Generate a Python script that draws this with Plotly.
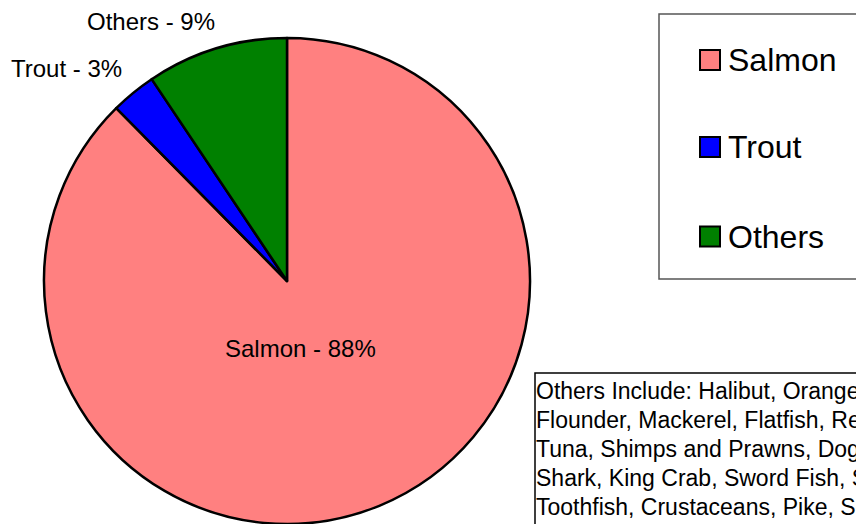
import plotly.graph_objects as go

# ---- data ----
categories = ["Salmon", "Trout", "Others"]
values = [87.6, 3.0, 9.4]
colors = ["#FF8080", "#0000FF", "#008000"]
note_lines = [
    "Others Include: Halibut, Orange Roughy, Cod,",
    "Flounder, Mackerel, Flatfish, Red Snapper,",
    "Tuna, Shimps and Prawns, Dogfish, Hake,",
    "Shark, King Crab, Sword Fish, Sea Bass,",
    "Toothfish, Crustaceans, Pike, Squid",
]

# the page body has an 8px margin; work in window pixels and convert
OFF = 8
W, H = 864 - OFF, 524 - OFF
FONT = "Liberation Sans, Arial, sans-serif"


def px(x):
    return (x - OFF) / W


def py(y):
    return 1 - (y - OFF) / H


fig = go.Figure()
fig.add_trace(go.Pie(
    labels=categories,
    values=values,
    sort=False,
    direction="clockwise",
    rotation=0,
    marker=dict(colors=colors, line=dict(color="black", width=2.5)),
    textinfo="none",
    hoverinfo="label+percent",
    showlegend=False,
    domain=dict(x=[px(44), px(530)], y=[0, 486 / H]),
))

annotations = []
# slice labels
label_pos = {"Salmon": (300, 348), "Trout": (67, 69), "Others": (151, 21)}
for cat, v in zip(categories, values):
    x, y = label_pos[cat]
    annotations.append(dict(
        x=px(x), y=py(y), xref="paper", yref="paper",
        text=f"{cat} - {round(v)}%", showarrow=False,
        xanchor="center", yanchor="middle",
        font=dict(family=FONT, size=24, color="black"),
    ))

shapes = []
# legend box
shapes.append(dict(type="rect", xref="paper", yref="paper",
                   x0=px(659), x1=px(900), y0=py(14), y1=py(279),
                   line=dict(color="#555555", width=1.5), fillcolor="white", layer="below"))
leg_y = [60, 147, 236.5]
for cat, col, yc in zip(categories, colors, leg_y):
    shapes.append(dict(type="rect", xref="paper", yref="paper",
                       x0=px(700), x1=px(720), y0=py(yc - 10), y1=py(yc + 10),
                       line=dict(color="black", width=2), fillcolor=col))
    annotations.append(dict(
        x=px(726), y=py(yc), xref="paper", yref="paper",
        text=cat, showarrow=False, xanchor="left", yanchor="middle",
        font=dict(family=FONT, size=32, color="black"),
    ))

# note box
shapes.append(dict(type="rect", xref="paper", yref="paper",
                   x0=px(535), x1=px(900), y0=py(373), y1=py(560),
                   line=dict(color="black", width=1.5), fillcolor="white", layer="below"))
for i, line in enumerate(note_lines):
    annotations.append(dict(
        x=px(534), y=py(391 + 29 * i), xref="paper", yref="paper",
        text=line, showarrow=False, xanchor="left", yanchor="middle",
        font=dict(family=FONT, size=23, color="black"),
    ))

fig.update_layout(
    width=W, height=H,
    margin=dict(l=0, r=0, t=0, b=0),
    paper_bgcolor="white", plot_bgcolor="white",
    annotations=annotations, shapes=shapes,
    showlegend=False,
)

fig.write_html("out.html")
